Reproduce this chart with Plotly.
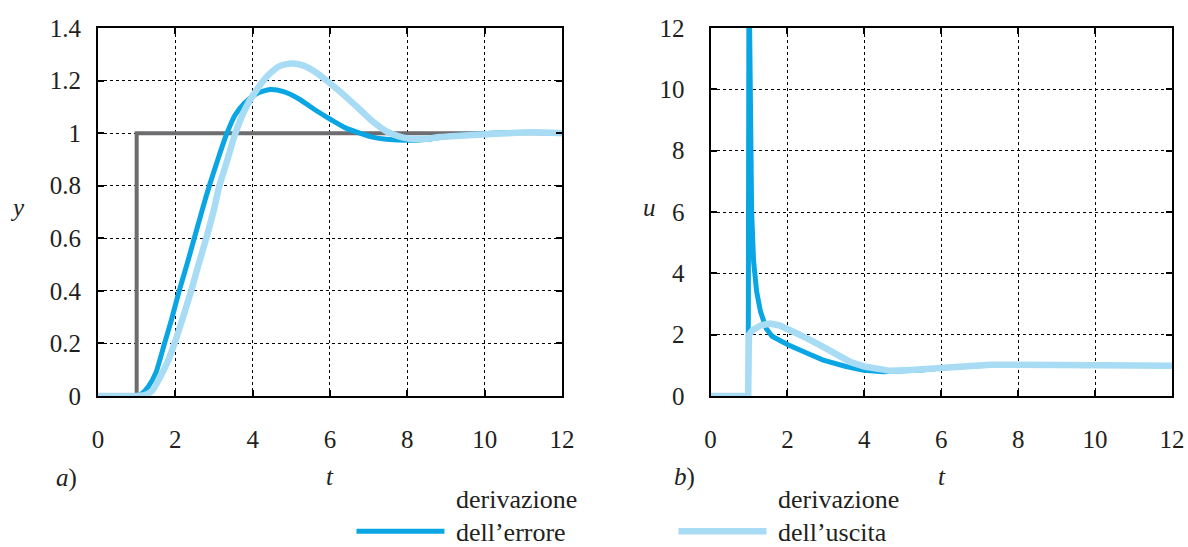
import plotly.graph_objects as go

# ---------------- data ----------------
# panel a) : output y(t)
t_step = [0, 1, 1, 12]
y_step = [0, 0, 1, 1]

t_y_err = [0, 1.0, 1.1, 1.3, 1.5, 1.72, 1.9, 2.1, 2.3, 2.49, 2.7, 2.88, 3.1, 3.31, 3.55,
           3.79, 4.1, 4.45, 4.8, 5.2, 5.6, 6.04, 6.4, 6.77, 7.1, 7.46, 8.07, 8.6, 9.2,
           9.96, 10.6, 11.3, 12]
y_err = [0, 0, 0.005, 0.035, 0.09, 0.20, 0.29, 0.40, 0.50, 0.60, 0.71, 0.80, 0.90, 0.99, 1.07,
         1.115, 1.15, 1.166, 1.158, 1.13, 1.09, 1.05, 1.02, 1.0, 0.985, 0.977, 0.973, 0.978, 0.99,
         0.998, 1.002, 1.002, 1.0]

t_y_out = [0, 1.0, 1.2, 1.4, 1.6, 1.8, 1.98, 2.2, 2.41, 2.6, 2.80, 3.0, 3.14, 3.35, 3.53, 3.8,
           4.05, 4.4, 4.7, 5.0, 5.3, 5.65, 6.04, 6.4, 6.77, 7.1, 7.46, 7.8, 8.07, 8.45, 8.84,
           9.4, 9.96, 10.6, 11.25, 12]
y_out = [0, 0, 0.003, 0.02, 0.07, 0.13, 0.20, 0.30, 0.40, 0.50, 0.60, 0.71, 0.80, 0.90, 0.99, 1.09,
         1.153, 1.22, 1.255, 1.265, 1.258, 1.23, 1.185, 1.14, 1.09, 1.045, 1.007, 0.987, 0.979, 0.978, 0.985,
         0.99, 0.995, 1.0, 1.003, 1.0]

# panel b) : control u(t)
t_u_err = [0, 0.98, 1.0, 1.03, 1.07, 1.12, 1.2, 1.3, 1.45, 1.6, 1.8, 2.0, 2.5, 2.93, 3.5, 3.98,
           4.5, 5.0, 5.5, 6.0, 6.5, 7.0, 7.5, 8.0, 8.5, 9.0, 10.0, 11.0, 12.0]
u_err = [0, 0, 14, 9.5, 6.0, 4.4, 3.4, 2.75, 2.2, 1.95, 1.8, 1.68, 1.4, 1.17, 0.97, 0.84,
         0.79, 0.8, 0.85, 0.91, 0.96, 0.99, 1.01, 1.02, 1.015, 1.01, 1.0, 0.99, 0.99]

t_u_out = [0, 0.98, 1.0, 1.1, 1.3, 1.55, 1.8, 2.0, 2.4, 2.93, 3.3, 3.63, 4.0, 4.24, 4.67, 5.2,
           5.97, 6.6, 7.27, 8.0, 9.0, 10.0, 11.0, 12.0]
u_out = [0, 0, 2.0, 2.15, 2.3, 2.36, 2.3, 2.2, 1.95, 1.6, 1.33, 1.11, 0.96, 0.9, 0.82, 0.85,
         0.93, 0.99, 1.02, 1.02, 1.01, 1.0, 0.99, 0.99]

x_ticks = [0, 2, 4, 6, 8, 10, 12]
y_ticks_a = [0, 0.2, 0.4, 0.6, 0.8, 1, 1.2, 1.4]
y_ticks_b = [0, 2, 4, 6, 8, 10, 12]

name_err = "\u00a0derivazione<br>\u00a0dell\u2019errore"
name_out = "\u00a0derivazione<br>\u00a0dell\u2019uscita"

# ---------------- style ----------------
C_DARK = "#0aa6e4"
C_LIGHT = "#a8dcf4"
C_GREY = "#6d6d70"
TXT = "#231f20"
FONT = "Liberation Serif, DejaVu Serif, serif"

fig = go.Figure()

fig.add_trace(go.Scatter(x=t_step, y=y_step, mode="lines", line=dict(color=C_GREY, width=4),
                         showlegend=False, xaxis="x", yaxis="y"))
fig.add_trace(go.Scatter(x=t_y_err, y=y_err, mode="lines", line=dict(color=C_DARK, width=5, shape="spline", smoothing=0.6),
                         name=name_err, showlegend=True, xaxis="x", yaxis="y"))
fig.add_trace(go.Scatter(x=t_y_out, y=y_out, mode="lines", line=dict(color=C_LIGHT, width=6.5, shape="spline", smoothing=0.6),
                         name=name_out, showlegend=True, xaxis="x", yaxis="y"))
fig.add_trace(go.Scatter(x=t_u_err, y=u_err, mode="lines", line=dict(color=C_DARK, width=5),
                         showlegend=False, xaxis="x2", yaxis="y2"))
fig.add_trace(go.Scatter(x=t_u_out, y=u_out, mode="lines", line=dict(color=C_LIGHT, width=6.5),
                         showlegend=False, xaxis="x2", yaxis="y2"))

axis_common = dict(
    showline=True, linecolor="black", linewidth=2, mirror="ticks",
    ticks="inside", ticklen=6, tickwidth=1.5, tickcolor="black",
    showgrid=True, gridcolor="black", gridwidth=1.3, griddash="dot",
    zeroline=False, tickfont=dict(family=FONT, size=25, color=TXT),
)

fig.update_layout(
    width=1188, height=547,
    margin=dict(l=98, r=16, t=28, b=151, autoexpand=False),
    paper_bgcolor="white", plot_bgcolor="white",
    font=dict(family=FONT, size=25, color=TXT),
    xaxis=dict(domain=[0, 0.432], range=[0, 12], tickvals=x_ticks, ticklabelstandoff=20,
               anchor="y", **axis_common),
    yaxis=dict(domain=[0, 1], range=[0, 1.4], tickvals=y_ticks_a, ticklabelstandoff=10,
               anchor="x", **axis_common),
    xaxis2=dict(domain=[0.5703, 1], range=[0, 12], tickvals=x_ticks, ticklabelstandoff=20,
                anchor="y2", **axis_common),
    yaxis2=dict(domain=[0, 1], range=[0, 12], tickvals=y_ticks_b, ticklabelstandoff=19,
                anchor="x2", **axis_common),
    legend=dict(orientation="h", x=0.236, xanchor="left", y=-0.212, yanchor="top",
                itemwidth=88, entrywidth=219, entrywidthmode="pixels", valign="bottom",
                font=dict(family=FONT, size=26, color=TXT), bgcolor="rgba(0,0,0,0)",
                tracegroupgap=0, itemclick=False),
)

def ann(text, px, py):
    return dict(text=text, x=(px - 98) / 1074, y=(396 - py) / 368, xref="paper", yref="paper",
                showarrow=False, xanchor="center", yanchor="middle",
                font=dict(family=FONT, size=25, color=TXT))

fig.update_layout(annotations=[
    ann("<i>y</i>", 17, 207),
    ann("<i>u</i>", 649, 207),
    ann("<i>t</i>", 330, 476),
    ann("<i>t</i>", 942, 476),
    ann("<i>a</i>)", 66, 478),
    ann("<i>b</i>)", 684, 477),
])

fig.write_html("out.html")
